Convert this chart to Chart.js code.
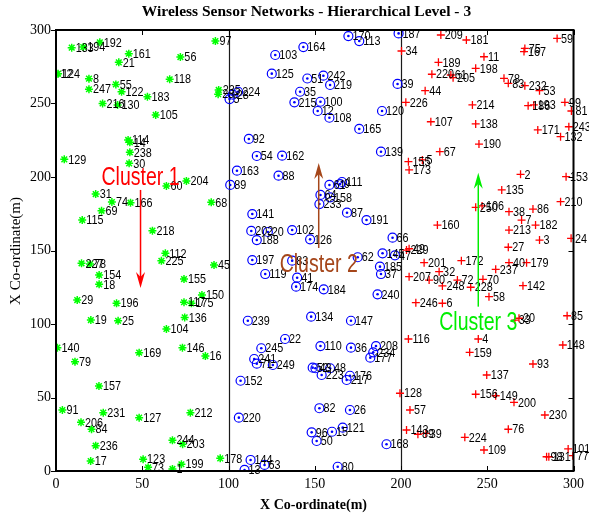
<!DOCTYPE html>
<html>
<head>
<meta charset="utf-8">
<script src="https://cdn.jsdelivr.net/npm/chart.js@4/dist/chart.umd.min.js"></script>
<style>
  html, body { margin: 0; padding: 0; background: #fff; }
  #wrap { width: 589px; height: 516px; position: relative; }
</style>
</head>
<body>
<div id="wrap"><canvas id="c"></canvas></div>
<script>
// ---- text ----
const TITLE = 'Wireless Sensor Networks - Hierarchical Level - 3';
const X_TITLE = 'X Co-ordinate(m)';
const Y_TITLE = 'X Co-ordinate(m)';
const AXIS_TICKS = [0, 50, 100, 150, 200, 250, 300];
const DIVIDERS = [100, 200];

// ---- cluster 1 (green) ----
const c1Ids = ['133','194','192','161','21','12','124','8','247','55','122','216','130','183','105','114','14','238','30','129',
  '118','56','97','235','23','60','204','31','74','166','69','115','218','227','78','154','18','29','196','19',
  '25','112','225','104','68','45','155','150','117','175','136','146','16','212','244','203','199','178','123','73',
  '1','140','79','169','157','91','231','127','206','84','236','17'];
const c1X = [9.1,15.8,25.4,42.2,36.4,0.3,1.2,19.1,19.1,34.7,38.0,27.0,35.7,53.0,57.8,41.8,42.8,42.8,42.4,4.8,
  65.9,72.1,92.4,94.3,94.0,64.0,75.6,23.0,32.4,43.2,26.4,15.2,55.9,14.8,19.7,25.0,25.0,12.3,35.1,20.2,
  36.0,63.4,61.1,64.0,90.0,91.6,74.2,84.6,74.2,78.5,74.6,73.3,86.6,77.9,67.5,73.4,72.7,95.2,50.5,53.4,
  67.5,0.8,11.0,48.2,24.9,3.7,27.4,48.2,14.5,20.6,23.0,20.1];
const c1Y = [288.0,288.4,291.6,283.9,278.0,270.0,270.3,266.9,259.7,263.0,258.0,250.0,249.0,254.6,242.2,225.2,223.6,216.8,209.3,212.0,
  266.5,281.6,292.5,259.2,256.3,193.9,197.3,188.4,183.0,182.5,177.0,170.7,163.5,141.3,140.8,133.3,127.0,116.3,114.1,102.7,
  102.2,148.1,143.0,96.6,182.8,140.1,130.6,119.7,114.8,114.1,104.5,83.9,78.2,39.7,20.9,18.2,4.6,8.6,8.0,2.5,
  1.4,83.9,74.4,80.5,57.8,41.5,39.7,36.3,33.1,28.4,17.2,6.8];

// ---- cluster 2 (blue) ----
const c2Ids = ['103','164','125','92','54','162','163','88','89','224','28','5','51','242','219','35','215','100','12','108',
  '170','113','187','39','120','165','139','61','9','111','64','158','233','87','191','126','66','145','47','62',
  '185','37','184','240','134','147','141','202','20','188','102','197','83','119','41','174','239','22','245','241',
  '71','249','152','220','144','13','63','110','36','208','234','177','52','43','48','223','176','217','82','26',
  '121','15','96','50','168','80'];
const c2X = [127.1,143.4,125.1,111.8,116.4,131.1,104.9,129.0,101.0,105.6,102.5,100.6,145.7,155.0,158.9,141.5,138.2,153.3,151.7,158.5,
  169.5,175.8,198.6,198.0,189.0,175.8,188.4,158.5,164.7,165.8,153.3,158.9,152.7,168.7,180.0,147.3,195.1,189.3,196.5,174.9,
  187.8,188.4,155.2,186.4,147.9,171.0,113.8,113.2,122.8,116.4,136.9,113.8,136.9,121.3,139.8,139.2,111.2,132.8,119.0,114.9,
  116.4,125.7,107.0,106.0,112.8,109.3,120.9,153.3,171.0,185.5,183.9,182.2,148.8,150.4,158.9,154.0,170.4,168.5,152.7,170.4,
  166.2,160.0,148.2,151.1,191.6,163.3];
const c2Y = [283.0,288.4,270.3,225.9,214.3,214.5,204.3,200.9,194.6,258.0,256.0,253.0,267.0,268.9,262.6,258.0,250.8,251.2,244.9,240.3,
  295.9,292.5,297.7,263.3,244.9,232.7,217.2,194.6,195.2,196.6,187.8,186.2,181.6,175.7,170.7,157.6,158.7,148.1,146.7,145.4,
  139.0,134.0,123.6,120.2,105.0,102.2,174.8,163.3,162.6,157.1,163.9,143.5,143.1,134.0,131.5,125.4,102.2,89.8,83.5,76.2,
  73.0,72.1,61.4,36.3,7.5,0.7,4.1,85.0,83.9,85.0,80.7,77.1,70.3,69.9,69.9,65.3,64.8,61.9,42.7,41.5,
  29.5,26.7,26.3,20.4,18.2,2.9];

// ---- cluster 3 (red) ----
const c3Ids = ['34','226','44','220','61','205','189','107','67','155','5','173','209','181','11','198','78','83','232','53',
  '75','167','59','214','186','193','99','81','138','171','243','132','190','2','153','135','250','106','38','86',
  '7','182','213','3','27','210','24','160','172','40','179','237','70','72','248','228','142','58','85','33',
  '20','201','32','207','90','246','6','229','49','116','128','57','143','89','39','4','159','148','93','137',
  '156','149','200','230','76','224','109','98','131','101','77'];
const c3X = [200.3,202.8,214.0,217.9,228.9,230.2,221.7,217.3,222.5,204.3,212.4,204.7,223.1,237.9,248.1,243.3,259.7,262.2,271.8,280.3,
  271.8,271.3,290.5,241.4,273.7,277.0,295.0,298.8,243.3,279.3,297.3,292.5,245.2,269.3,295.7,258.4,243.3,247.0,262.6,276.5,
  269.9,278.0,262.6,280.3,262.2,292.5,298.6,221.1,235.0,262.6,272.8,254.9,247.5,232.7,224.0,240.4,270.7,251.0,296.3,266.0,
  268.4,213.4,222.1,204.7,216.3,208.6,224.0,203.2,204.7,204.3,199.4,205.2,203.2,209.8,214.4,244.8,239.8,293.8,276.5,249.7,
  243.3,254.9,265.5,283.4,262.2,237.0,248.1,284.4,285.7,296.9,299.6];
const c3Y = [285.7,250.8,258.7,269.9,269.4,267.6,278.0,237.6,217.2,210.4,211.6,204.8,296.6,293.2,281.8,273.9,267.1,263.7,262.1,258.7,
  287.5,285.3,294.3,249.0,248.5,249.0,250.8,244.9,236.1,232.0,234.2,227.4,222.4,201.8,200.2,191.2,179.4,180.3,176.4,178.2,
  170.7,167.3,163.9,157.1,152.2,183.2,158.3,167.3,143.1,141.7,141.7,137.2,130.4,129.9,125.9,125.0,126.1,118.6,105.6,102.7,
  103.9,141.7,135.6,132.2,129.9,114.5,114.1,150.3,151.2,89.8,52.9,41.5,27.9,25.0,25.6,89.8,80.7,85.7,72.8,65.3,
  52.2,51.2,46.7,38.1,28.4,22.9,14.3,9.7,9.7,15.0,10.4];

// ---- cluster captions with their arrows (data units) ----
const CAPTIONS = [
  { text: 'Cluster 1', color: '#ff0000', x: 49.0,  base: 194.6, from: 191.2, to: 124.5 },
  { text: 'Cluster 2', color: '#a5461a', x: 152.3, base: 135.6, from: 151.7, to: 209.5 },
  { text: 'Cluster 3', color: '#00ee00', x: 244.8, base: 95.9,  from: 111.8, to: 202.9 }
];

const toPts = (xs, ys) => xs.map((x, i) => ({ x, y: ys[i] }));

const clusters = [
  { ids: c1Ids, pts: toPts(c1X, c1Y) },
  { ids: c2Ids, pts: toPts(c2X, c2Y) },
  { ids: c3Ids, pts: toPts(c3X, c3Y) }
];

function drawArrow(ctx, x, y0, y1, color) {
  const dir = Math.sign(y1 - y0);
  const headLen = 16, half = 4.5, notch = 11;
  ctx.save();
  ctx.strokeStyle = color;
  ctx.fillStyle = color;
  ctx.lineWidth = 1.5;
  ctx.beginPath();
  ctx.moveTo(x, y0);
  ctx.lineTo(x, y1 - dir * notch);
  ctx.stroke();
  ctx.beginPath();
  ctx.moveTo(x, y1);
  ctx.lineTo(x - half, y1 - dir * headLen);
  ctx.lineTo(x, y1 - dir * notch);
  ctx.lineTo(x + half, y1 - dir * headLen);
  ctx.closePath();
  ctx.fill();
  ctx.restore();
}

const decor = {
  id: 'decor',
  beforeDatasetsDraw(chart) {
    const { ctx, chartArea: a, scales: { x } } = chart;
    ctx.save();
    ctx.strokeStyle = '#1a1a1a';
    ctx.lineWidth = 1.2;
    DIVIDERS.forEach(v => {
      const px = Math.round(x.getPixelForValue(v)) + 0.5;
      ctx.beginPath();
      ctx.moveTo(px, a.top);
      ctx.lineTo(px, a.bottom);
      ctx.stroke();
    });
    ctx.restore();
  },
  afterDatasetsDraw(chart) {
    const { ctx, chartArea: a, scales: { x, y } } = chart;
    // node numbers
    ctx.save();
    ctx.fillStyle = '#000';
    ctx.font = '13.5px "Liberation Sans", Arial, sans-serif';
    ctx.textBaseline = 'middle';
    ctx.textAlign = 'left';
    clusters.forEach(c => {
      c.pts.forEach((p, i) => {
        const px = x.getPixelForValue(p.x) + 4;
        const py = y.getPixelForValue(p.y) + 0.5;
        ctx.save();
        ctx.translate(px, py);
        ctx.scale(0.8, 1);
        ctx.fillText(c.ids[i], 0, 0);
        ctx.restore();
      });
    });
    ctx.restore();

    // captions and arrows
    CAPTIONS.forEach(cap => {
      const px = x.getPixelForValue(cap.x);
      drawArrow(ctx, px, y.getPixelForValue(cap.from), y.getPixelForValue(cap.to), cap.color);
      ctx.save();
      ctx.fillStyle = cap.color;
      ctx.font = '25px "Liberation Sans", Arial, sans-serif';
      ctx.textAlign = 'center';
      ctx.textBaseline = 'alphabetic';
      ctx.translate(px, y.getPixelForValue(cap.base));
      ctx.scale(0.78, 1);
      ctx.fillText(cap.text, 0, 0);
      ctx.restore();
    });

    // frame and ticks
    ctx.save();
    ctx.strokeStyle = '#000';
    ctx.lineWidth = 2;
    ctx.strokeRect(a.left, a.top, a.right - a.left, a.bottom - a.top);
    ctx.lineWidth = 1;
    ctx.beginPath();
    AXIS_TICKS.forEach(v => {
      const px = Math.round(x.getPixelForValue(v)) + 0.5;
      ctx.moveTo(px, a.bottom); ctx.lineTo(px, a.bottom - 5);
      ctx.moveTo(px, a.top); ctx.lineTo(px, a.top + 5);
      const py = Math.round(y.getPixelForValue(v)) + 0.5;
      ctx.moveTo(a.left, py); ctx.lineTo(a.left - 5, py);
      ctx.moveTo(a.right, py); ctx.lineTo(a.right - 5, py);
    });
    ctx.stroke();
    ctx.restore();
  },
  afterDraw(chart) {
    const { ctx } = chart;
    ctx.save();
    ctx.fillStyle = '#000';
    ctx.textAlign = 'center';
    ctx.textBaseline = 'middle';
    ctx.font = 'bold 15.5px "Liberation Serif", "Times New Roman", serif';
    ctx.fillText(TITLE, 306.5, 12);
    ctx.font = 'bold 14px "Liberation Serif", "Times New Roman", serif';
    ctx.fillText(X_TITLE, 313.5, 505);
    ctx.translate(16, 251);
    ctx.rotate(-Math.PI / 2);
    ctx.font = '15px "Liberation Serif", "Times New Roman", serif';
    ctx.fillText(Y_TITLE, 0, 0);
    ctx.restore();
  }
};

const tickFont = { family: '"Liberation Serif", "Times New Roman", serif', size: 14 };

new Chart(document.getElementById('c'), {
  type: 'scatter',
  data: {
    datasets: [
      { data: clusters[0].pts, pointStyle: 'star', radius: 4, borderColor: '#00ff00',
        backgroundColor: 'rgba(0,0,0,0)', borderWidth: 1.5 },
      { data: clusters[1].pts, pointStyle: 'circle', radius: 4.5, borderColor: '#0000ff',
        backgroundColor: 'rgba(0,0,0,0)', borderWidth: 1.2 },
      { data: clusters[1].pts, pointStyle: 'circle', radius: 1.3, borderColor: '#0000ff',
        backgroundColor: '#0000ff', borderWidth: 0 },
      { data: clusters[2].pts, pointStyle: 'cross', radius: 4, borderColor: '#ff0000',
        backgroundColor: 'rgba(0,0,0,0)', borderWidth: 1.3 }
    ]
  },
  options: {
    responsive: true,
    maintainAspectRatio: false,
    animation: false,
    events: [],
    layout: { padding: { top: 30, right: 14, left: 0, bottom: 0 } },
    plugins: { legend: { display: false }, tooltip: { enabled: false }, title: { display: false } },
    scales: {
      x: {
        type: 'linear', min: 0, max: 300,
        afterBuildTicks: s => { s.ticks = AXIS_TICKS.map(v => ({ value: v })); },
        afterFit: s => { s.height = 45; },
        grid: { display: false, drawTicks: false },
        border: { display: false },
        ticks: { color: '#000', font: tickFont, padding: 5, maxRotation: 0 }
      },
      y: {
        type: 'linear', min: 0, max: 300,
        afterBuildTicks: s => { s.ticks = AXIS_TICKS.map(v => ({ value: v })); },
        afterFit: s => { s.width = 56; },
        grid: { display: false, drawTicks: false },
        border: { display: false },
        ticks: { color: '#000', font: tickFont, padding: 5 }
      }
    }
  },
  plugins: [decor]
});
</script>
</body>
</html>
